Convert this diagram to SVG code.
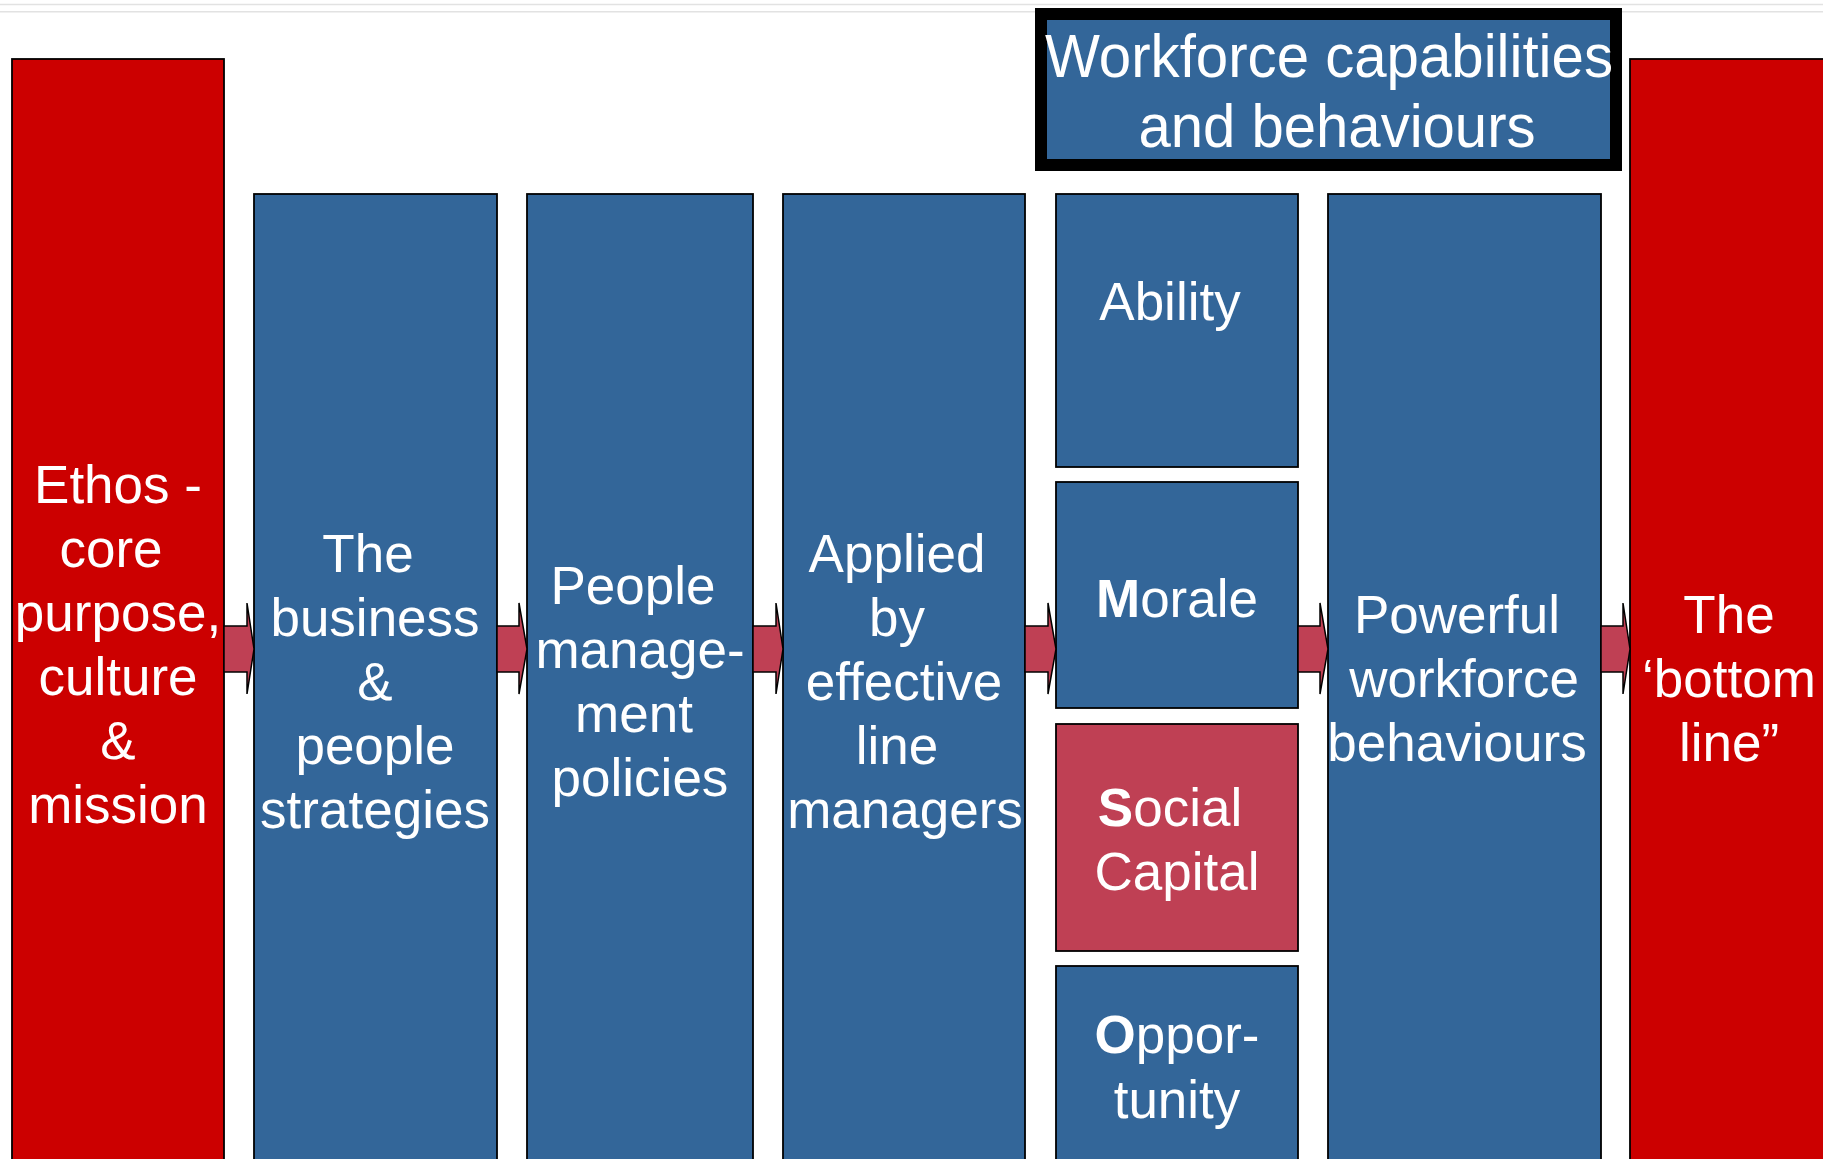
<svg xmlns="http://www.w3.org/2000/svg" width="1823" height="1159" viewBox="0 0 1823 1159">
<style>
.bg{fill:#ffffff}
.rule{stroke:#e2e2e2;stroke-width:1.6}
.red{fill:#cc0000;stroke:#000;stroke-width:1.8}
.blue{fill:#336699;stroke:#000;stroke-width:1.8}
.pink{fill:#bf4054;stroke:#000;stroke-width:1.8}
.hdr{fill:#336699;stroke:#000;stroke-width:12}
.arrow{fill:#bf4054;stroke:#000;stroke-width:1.5;stroke-linejoin:miter}
text{font-family:"Liberation Sans",Arial,Helvetica,sans-serif;fill:#ffffff;text-anchor:middle}
.t{font-size:53px}
.h{font-size:61px}
.b{font-weight:bold}
</style>
<rect class="bg" x="0" y="0" width="1823" height="1159"/>
<line class="rule" x1="0" y1="4.5" x2="1823" y2="4.5"/>
<line class="rule" x1="0" y1="11.7" x2="1823" y2="11.7"/>

<g id="ethos">
<rect class="red" x="12" y="59" width="212" height="1110"/>
<text class="t"><tspan x="118" y="503">Ethos -</tspan><tspan x="111" y="567">core</tspan><tspan x="118" y="631">purpose,</tspan><tspan x="118" y="695">culture</tspan><tspan x="118" y="759">&amp;</tspan><tspan x="118" y="823">mission</tspan></text>
</g>

<g id="strategies">
<rect class="blue" x="254" y="194" width="243" height="975"/>
<text class="t"><tspan x="368" y="572">The</tspan><tspan x="375" y="636">business</tspan><tspan x="375" y="700">&amp;</tspan><tspan x="375" y="764">people</tspan><tspan x="375" y="828">strategies</tspan></text>
</g>

<g id="policies">
<rect class="blue" x="527" y="194" width="226" height="975"/>
<text class="t"><tspan x="633" y="604">People</tspan><tspan x="640" y="668">manage-</tspan><tspan x="634" y="732">ment</tspan><tspan x="640" y="796">policies</tspan></text>
</g>

<g id="line-managers">
<rect class="blue" x="783" y="194" width="242" height="975"/>
<text class="t"><tspan x="897" y="572">Applied</tspan><tspan x="897" y="636">by</tspan><tspan x="904" y="700">effective</tspan><tspan x="897" y="764">line</tspan><tspan x="905" y="828">managers</tspan></text>
</g>

<g id="header">
<rect class="hdr" x="1041" y="14" width="575" height="151"/>
<text class="h"><tspan x="1329" y="77" textLength="568" lengthAdjust="spacingAndGlyphs">Workforce capabilities</tspan></text>
<text class="h"><tspan x="1337" y="147" textLength="397" lengthAdjust="spacingAndGlyphs">and behaviours</tspan></text>
</g>

<g id="ability">
<rect class="blue" x="1056" y="194" width="242" height="273"/>
<text class="t" x="1170" y="320">Ability</text>
</g>

<g id="morale">
<rect class="blue" x="1056" y="482" width="242" height="226"/>
<text class="t" x="1177" y="617"><tspan class="b">M</tspan>orale</text>
</g>

<g id="social-capital">
<rect class="pink" x="1056" y="724" width="242" height="227"/>
<text class="t"><tspan x="1170" y="826"><tspan class="b">S</tspan>ocial</tspan><tspan x="1177" y="890">Capital</tspan></text>
</g>

<g id="opportunity">
<rect class="blue" x="1056" y="966" width="242" height="203"/>
<text class="t"><tspan x="1177" y="1053"><tspan class="b">O</tspan>ppor-</tspan><tspan x="1177" y="1118">tunity</tspan></text>
</g>

<g id="powerful">
<rect class="blue" x="1328" y="194" width="273" height="975"/>
<text class="t"><tspan x="1457" y="633">Powerful</tspan><tspan x="1464" y="697">workforce</tspan><tspan x="1457" y="761">behaviours</tspan></text>
</g>

<g id="bottom-line">
<rect class="red" x="1630" y="59" width="210" height="1110"/>
<text class="t"><tspan x="1729" y="633">The</tspan><tspan x="1729" y="697">‘bottom</tspan><tspan x="1729" y="761">line”</tspan></text>
</g>

<g id="connectors">
<polygon class="arrow" points="224,626 247,626 247,603 254,649 247,694 247,672 224,672"/>
<polygon class="arrow" points="497,626 519,626 519,603 527,649 519,694 519,672 497,672"/>
<polygon class="arrow" points="753,626 776,626 776,603 783,649 776,694 776,672 753,672"/>
<polygon class="arrow" points="1025,626 1048,626 1048,603 1056,649 1048,694 1048,672 1025,672"/>
<polygon class="arrow" points="1298,626 1320,626 1320,603 1328,649 1320,694 1320,672 1298,672"/>
<polygon class="arrow" points="1601,626 1623,626 1623,603 1630,649 1623,694 1623,672 1601,672"/>
</g>
</svg>
